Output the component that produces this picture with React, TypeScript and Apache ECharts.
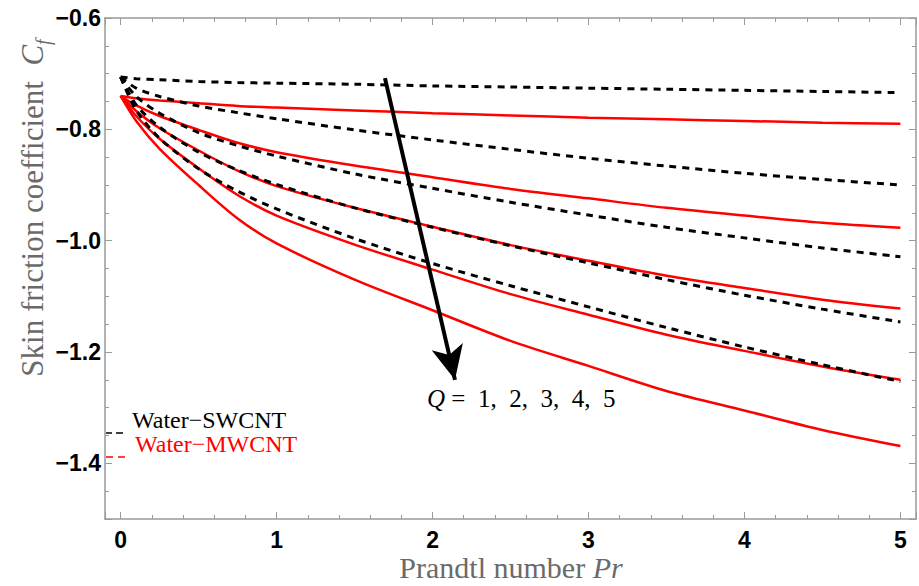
import React, { useEffect, useRef } from "react";
import * as echarts from "echarts";

// Prandtl number samples
const prandtl = [0, 0.1, 0.25, 0.5, 0.75, 1, 1.5, 2, 2.5, 3, 3.5, 4, 4.5, 5];

// Water–SWCNT (black dashed), Q = 1..5
const swcntQ1 = [-0.706, -0.709, -0.711, -0.714, -0.716, -0.717, -0.719, -0.722, -0.724, -0.726, -0.728, -0.73, -0.732, -0.734];
const swcntQ2 = [-0.706, -0.726, -0.741, -0.758, -0.77, -0.781, -0.801, -0.819, -0.836, -0.852, -0.866, -0.879, -0.89, -0.9];
const swcntQ3 = [-0.706, -0.741, -0.771, -0.806, -0.829, -0.848, -0.88, -0.906, -0.931, -0.954, -0.976, -0.995, -1.013, -1.029];
const swcntQ4 = [-0.706, -0.756, -0.796, -0.841, -0.873, -0.899, -0.941, -0.976, -1.009, -1.04, -1.07, -1.098, -1.123, -1.146];
const swcntQ5 = [-0.706, -0.766, -0.816, -0.871, -0.911, -0.943, -0.996, -1.041, -1.081, -1.119, -1.156, -1.191, -1.223, -1.253];

// Water–MWCNT (red solid), Q = 1..5
const mwcntQ1 = [-0.74, -0.744, -0.748, -0.753, -0.758, -0.761, -0.766, -0.771, -0.775, -0.779, -0.782, -0.785, -0.788, -0.79];
const mwcntQ2 = [-0.74, -0.757, -0.776, -0.801, -0.824, -0.841, -0.865, -0.886, -0.907, -0.924, -0.941, -0.955, -0.968, -0.977];
const mwcntQ3 = [-0.74, -0.767, -0.798, -0.838, -0.874, -0.902, -0.941, -0.975, -1.008, -1.036, -1.063, -1.085, -1.106, -1.122];
const mwcntQ4 = [-0.74, -0.776, -0.817, -0.87, -0.918, -0.955, -1.007, -1.052, -1.096, -1.133, -1.169, -1.198, -1.226, -1.25];
const mwcntQ5 = [-0.74, -0.785, -0.835, -0.9, -0.96, -1.005, -1.07, -1.125, -1.18, -1.225, -1.27, -1.305, -1.34, -1.369];

const xTickLabels = [0, 1, 2, 3, 4, 5];
const yTickLabels = [-1.4, -1.2, -1.0, -0.8, -0.6];

// Arrow annotation (data coordinates): start and arrow tip
const arrowStart = [1.695, -0.708];
const arrowEnd = [2.144, -1.25];

const qText = "Q";
const qValues = "=  1,  2,  3,  4,  5";
const legendNames = ["Water\u2212SWCNT", "Water\u2212MWCNT"];

const FRAME = "#9a9a9a";
const TITLE = "#6a6a6a";
const SERIF = "'Liberation Serif', 'Times New Roman', serif";
const SANS = "'Liberation Sans', Arial, sans-serif";

const pairs = (ys: number[]) => prandtl.map((x, i) => [x, ys[i]]);

export default function App() {
  const ref = useRef<HTMLDivElement>(null);

  useEffect(() => {
    document.body.style.margin = "0";
    if (!ref.current) return;
    const chart = echarts.init(ref.current, null, { renderer: "svg" });

    const xFmt = (v: number) =>
      xTickLabels.some((t) => Math.abs(t - v) < 1e-6) ? String(Math.round(v)) : "";
    const yFmt = (v: number) =>
      yTickLabels.some((t) => Math.abs(t - v) < 1e-6) ? v.toFixed(1).replace("-", "\u2212") : "";

    const baseX = (pos: "bottom" | "top", labels: boolean) => ({
      type: "value",
      position: pos,
      min: -0.1,
      max: 5.1,
      splitNumber: 5,
      axisLine: { show: true, onZero: false, lineStyle: { color: FRAME, width: 1.5 } },
      axisTick: { show: true, inside: true, length: 7, lineStyle: { color: FRAME, width: 1 } },
      minorTick: { show: true, splitNumber: 5, length: 4, lineStyle: { color: FRAME, width: 1 } },
      splitLine: { show: false },
      axisLabel: {
        show: labels,
        margin: 9,
        color: "#000",
        fontSize: 23,
        fontWeight: "bold",
        fontFamily: SANS,
        formatter: xFmt,
      },
    });
    const baseY = (pos: "left" | "right", labels: boolean) => ({
      type: "value",
      position: pos,
      min: -1.5,
      max: -0.6,
      splitNumber: 5,
      axisLine: { show: true, onZero: false, lineStyle: { color: FRAME, width: 1.5 } },
      axisTick: { show: true, inside: true, length: 7, lineStyle: { color: FRAME, width: 1 } },
      minorTick: { show: true, splitNumber: 4, length: 4, lineStyle: { color: FRAME, width: 1 } },
      splitLine: { show: false },
      axisLabel: {
        show: labels,
        margin: 4,
        color: "#000",
        fontSize: 23,
        fontWeight: "bold",
        fontFamily: SANS,
        formatter: yFmt,
      },
    });

    const red = [mwcntQ1, mwcntQ2, mwcntQ3, mwcntQ4, mwcntQ5].map((d, i) => ({
      name: "MWCNT Q=" + (i + 1),
      type: "line",
      data: pairs(d),
      showSymbol: false,
      symbol: "none",
      smooth: 0.3,
      lineStyle: { color: "#ff0000", width: 2.5 },
      z: 2,
      silent: true,
    }));
    const black = [swcntQ1, swcntQ2, swcntQ3, swcntQ4, swcntQ5].map((d, i) => ({
      name: "SWCNT Q=" + (i + 1),
      type: "line",
      data: pairs(d),
      showSymbol: false,
      symbol: "none",
      smooth: 0.3,
      lineStyle: { color: "#000", width: 3, type: [7, 6] },
      z: 3,
      silent: true,
    }));
    (black[0] as any).markLine = {
      silent: true,
      symbol: ["none", "arrow"],
      symbolSize: [24, 34],
      label: { show: false },
      lineStyle: { color: "#000", width: 4, type: "solid" },
      data: [[{ coord: arrowStart }, { coord: arrowEnd }]],
      z: 5,
    };

    chart.setOption({
      animation: false,
      backgroundColor: "#fff",
      grid: { left: 105, right: 3, top: 18, bottom: 67, containLabel: false },
      xAxis: [baseX("bottom", true), baseX("top", false)],
      yAxis: [baseY("left", true), baseY("right", false)],
      series: [...red, ...black],
      graphic: [
        // legend
        { type: "line", shape: { x1: 106, y1: 433, x2: 112, y2: 433 }, style: { stroke: "#000", lineWidth: 1.5 } },
        { type: "line", shape: { x1: 116, y1: 433, x2: 123, y2: 433 }, style: { stroke: "#000", lineWidth: 1.5 } },
        { type: "line", shape: { x1: 106, y1: 457, x2: 113, y2: 457 }, style: { stroke: "#ff0000", lineWidth: 1.5 } },
        { type: "line", shape: { x1: 118, y1: 457, x2: 125, y2: 457 }, style: { stroke: "#ff0000", lineWidth: 1.5 } },
        {
          type: "text",
          x: 132,
          y: 420,
          style: {
            text: legendNames[0],
            fill: "#000",
            font: `24px ${SERIF}`,
            align: "left",
            verticalAlign: "middle",
          },
        },
        {
          type: "text",
          x: 135,
          y: 444,
          style: {
            text: legendNames[1],
            fill: "#ff0000",
            font: `24px ${SERIF}`,
            align: "left",
            verticalAlign: "middle",
          },
        },
        // Q annotation
        {
          type: "text",
          x: 427,
          y: 398,
          style: {
            text: `{i|${qText}}{n| ${qValues}}`,
            align: "left",
            verticalAlign: "middle",
            fill: "#000",
            rich: {
              i: { fontFamily: SERIF, fontSize: 25, fontStyle: "italic", fill: "#000" },
              n: { fontFamily: SERIF, fontSize: 25, fill: "#000" },
            },
          },
        },
        // x axis title
        {
          type: "text",
          x: 511,
          y: 567,
          style: {
            text: "{n|Prandtl number }{i|Pr}",
            align: "center",
            verticalAlign: "middle",
            fill: TITLE,
            rich: {
              n: { fontFamily: SERIF, fontSize: 30, fill: TITLE },
              i: { fontFamily: SERIF, fontSize: 30, fontStyle: "italic", fill: TITLE },
            },
          },
        },
        // y axis title
        {
          type: "text",
          x: 32,
          y: 208,
          rotation: Math.PI / 2,
          style: {
            text: "{n|Skin friction coefficient  }{c|C}{s|f}",
            align: "center",
            verticalAlign: "middle",
            fill: TITLE,
            rich: {
              n: { fontFamily: SERIF, fontSize: 31, fill: TITLE, lineHeight: 42, verticalAlign: "middle" },
              c: { fontFamily: SERIF, fontSize: 31, fontStyle: "italic", fill: TITLE, lineHeight: 42, verticalAlign: "middle" },
              s: { fontFamily: SERIF, fontSize: 20, fontStyle: "italic", fill: TITLE, lineHeight: 20, verticalAlign: "bottom" },
            },
          },
        },
      ],
    });

    return () => chart.dispose();
  }, []);

  return <div ref={ref} style={{ width: 919, height: 586 }} />;
}
